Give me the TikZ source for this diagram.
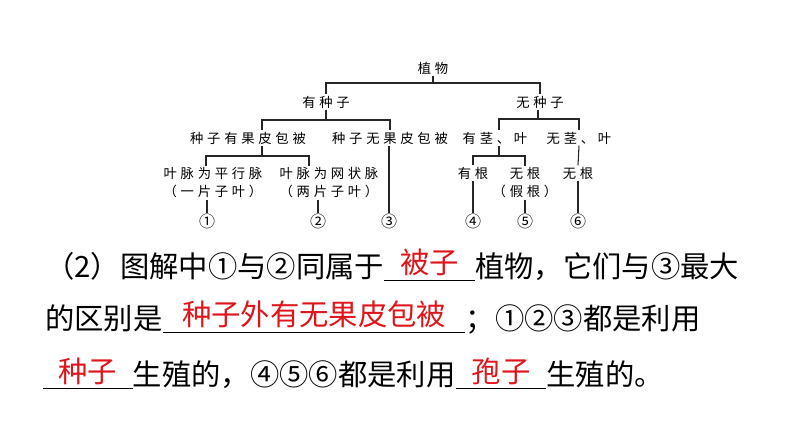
\documentclass[tikz,border=0pt]{standalone}
\usepackage{xcolor}
\usepackage{fontspec}
\usepackage{tikz}
\usetikzlibrary{positioning,calc}
\newfontfamily\cjk{Noto Sans CJK SC}
\newfontfamily\cjktree[LetterSpace=28]{Noto Sans CJK SC}
\definecolor{ansred}{RGB}{222,22,28}

\begin{document}
\begin{tikzpicture}[
  x=0.75pt, y=-0.75pt,
  font=\cjktree\fontsize{10pt}{13.5pt}\selectfont,
  tnode/.style={inner sep=1pt, align=center},
  num/.style={inner sep=0.5pt, font=\cjk\fontsize{12pt}{14pt}\selectfont},
  tline/.style={line width=0.8pt, black!85},
  txt/.style={font=\cjk\fontsize{22pt}{26pt}\selectfont, inner sep=0pt, anchor=base west},
  blank/.style={txt, text=ansred, align=center},
  uline/.style={line width=0.8pt},
]
\useasboundingbox (0,0) rectangle (794,447);
\node[tnode] (zw)  at (433,68)  {植物};
\node[tnode] (yzz) at (326,102) {有种子};
\node[tnode] (wzz) at (540,102) {无种子};
\node[tnode] (yg)  at (248,138) {种子有果皮包被};
\node[tnode] (wg)  at (390,138) {种子无果皮包被};
\node[tnode] (yj)  at (495,138) {有茎、叶};
\node[tnode] (wj)  at (579,138) {无茎、叶};
\node[tnode] (px)  at (213,183) {叶脉为平行脉\\（一片子叶）};
\node[tnode] (wx)  at (329,183) {叶脉为网状脉\\（两片子叶）};
\node[tnode] (yr)  at (473,173) {有根};
\node[tnode] (wr)  at (525,183) {无根\\（假根）};
\node[tnode] (wr2) at (578,173) {无根};
\node[num] (n1) at (207,221) {①};
\node[num] (n2) at (318,221) {②};
\node[num] (n3) at (389,221) {③};
\node[num] (n4) at (473,221) {④};
\node[num] (n5) at (525,221) {⑤};
\node[num] (n6) at (578,221) {⑥};

\coordinate (k0) at (433,83);
\coordinate (k1) at (326,120);
\coordinate (k2) at (538,119);
\coordinate (k3) at (262,156);
\coordinate (k4) at (499,156);
\draw[tline] (zw.south) -- (k0);
\draw[tline] (yzz.north) |- (k0) -| (wzz.north);
\draw[tline] (yzz.south) -- (k1);
\draw[tline] ($(yg.north)+(14,0)$) |- (k1) -| (wg.north);
\draw[tline] (wzz.south -| k2) -- (k2);
\draw[tline] ($(yj.north)+(4,0)$) |- (k2) -| (wj.north);
\draw[tline] (yg.south -| k3) -- (k3);
\draw[tline] ($(px.north)+(-7,0)$) |- (k3) -| ($(wx.north)+(-20,0)$);
\draw[tline] (yj.south -| k4) -- (k4);
\draw[tline] (yr.north) |- (k4) -| (wr.north);
\draw[tline] (wj.south) -- (wr2.north);
\draw[tline] (px.south -| n1) -- (n1.north);
\draw[tline] (wx.south -| n2) -- (n2.north);
\draw[tline] (wg.south -| n3) -- (n3.north);
\draw[tline] (yr.south) -- (n4.north);
\draw[tline] (wr.south) -- (n5.north);
\draw[tline] (wr2.south) -- (n6.north);

\node[txt] (t1a) at (45,277) {（2）图解中①与②同属于};
\node[blank, minimum width=67.5pt] (ans1) at (t1a.base east) {\raisebox{3pt}{被子}};
\node[txt] (t1b) at (ans1.base east) {植物，它们与③最大};
\node[txt] (t2a) at (45,329) {的区别是};
\node[blank, minimum width=226.5pt] (ans2) at (t2a.base east) {\raisebox{3pt}{种子外有无果皮包被}};
\node[txt] (t2b) at (ans2.base east) {；①②③都是利用};
\node[blank, minimum width=66.75pt] (ans3) at (43,385) {\raisebox{2pt}{种子}};
\node[txt] (t3a) at (ans3.base east) {生殖的，④⑤⑥都是利用};
\node[blank, minimum width=67.5pt] (ans4) at (t3a.base east) {\raisebox{2pt}{孢子}};
\node[txt] (t3b) at (ans4.base east) {生殖的。};
\draw[uline] ([yshift=-2.5pt]ans1.base west) -- ([yshift=-2.5pt]ans1.base east);
\draw[uline] ([yshift=-2.5pt]ans2.base west) -- ([yshift=-2.5pt]ans2.base east);
\draw[uline] ([yshift=-2.5pt]ans3.base west) -- ([yshift=-2.5pt]ans3.base east);
\draw[uline] ([yshift=-2.5pt]ans4.base west) -- ([yshift=-2.5pt]ans4.base east);
\end{tikzpicture}
\end{document}
